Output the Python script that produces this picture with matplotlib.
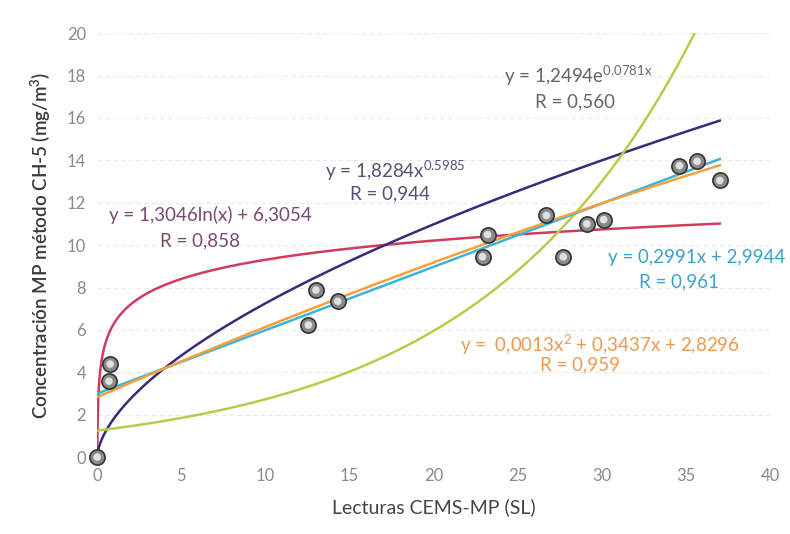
import numpy as np
import matplotlib.pyplot as plt

# lecturas CEMS (x) vs concentracion CH-5 (y)
cems = [0.0, 0.77, 0.7, 12.55, 13.0, 14.3, 22.9, 23.2, 26.7, 27.7, 29.1, 30.1, 34.6, 35.65, 37.0]
ch5 = [0.0, 4.39, 3.58, 6.23, 7.88, 7.35, 9.45, 10.5, 11.4, 9.45, 11.0, 11.2, 13.75, 13.95, 13.05]

# coeficientes de las lineas de tendencia
lin_a, lin_b = 0.2991, 2.9944
quad_a, quad_b, quad_c = -0.0013, 0.3437, 2.8296
log_a, log_b = 1.3046, 6.3054
pow_a, pow_b = 1.8284, 0.5985
exp_a, exp_b = 1.2494, 0.0781

x_end = 37.0
y_ticks = [0, 2, 4, 6, 8, 10, 12, 14, 16, 18, 20]
x_ticks = [0, 5, 10, 15, 20, 25, 30, 35, 40]

plt.rcParams['font.family'] = ['Lato', 'DejaVu Sans']
plt.rcParams['mathtext.default'] = 'regular'
fig = plt.figure(figsize=(7.9, 5.34), dpi=100)
ax = fig.add_axes([0.123, 0.144, 0.852, 0.794])

x = np.linspace(0, x_end, 400)
xl = np.geomspace(0.008, x_end, 600)
ax.plot(xl, log_a*np.log(xl) + log_b, color='#d03c5c', lw=1.8, zorder=3)
ax.plot(x, pow_a*x**pow_b, color='#3a2a78', lw=1.8, zorder=3)
xe = np.linspace(0, np.log(20/exp_a)/exp_b, 400)
ax.plot(xe, exp_a*np.exp(exp_b*xe), color='#b8cc4c', lw=1.8, zorder=3)
ax.plot(x, lin_a*x + lin_b, color='#3ab4dc', lw=1.8, zorder=3)
ax.plot(x, quad_a*x**2 + quad_b*x + quad_c, color='#f5a03c', lw=1.8, zorder=3)

ax.scatter(cems, ch5, s=120, facecolor='#8a8a8a', edgecolor='#333333', lw=1.2, zorder=5, clip_on=False)
ax.scatter(cems, ch5, s=30, facecolor='#e0e0e0', edgecolor='none', zorder=6, clip_on=False)

ax.set_xlim(0, 40)
ax.set_ylim(0, 20)
ax.set_xticks(x_ticks)
ax.set_yticks(y_ticks)
ax.tick_params(length=0, labelsize=12, labelcolor='#8a8a8a', pad=8)
for s in ax.spines.values():
    s.set_visible(False)
ax.grid(axis='y', color='#e8e8e8', lw=0.8, ls=(0, (4, 3)))
ax.set_axisbelow(True)

ax.set_xlabel('Lecturas CEMS-MP (SL)', fontsize=14, color='#444444', labelpad=10)
ax.set_ylabel('Concentración MP método CH-5 (mg/m$^3$)', fontsize=13.5, color='#3a3a3a',
              fontweight='semibold', labelpad=10)

fs = 13.5
ax.text(28.6, 18.0, 'y = 1,2494e$^{0.0781x}$', ha='center', va='center', fontsize=fs, color='#666666')
ax.text(28.4, 16.75, 'R = 0,560', ha='center', va='center', fontsize=fs, color='#666666')
ax.text(17.7, 13.5, 'y = 1,8284x$^{0.5985}$', ha='center', va='center', fontsize=fs, color='#5a5070')
ax.text(17.4, 12.4, 'R = 0,944', ha='center', va='center', fontsize=fs, color='#5a5070')
ax.text(6.7, 11.4, 'y = 1,3046ln(x) + 6,3054', ha='center', va='center', fontsize=fs, color='#7a4a6e')
ax.text(6.1, 10.2, 'R = 0,858', ha='center', va='center', fontsize=fs, color='#7a4a6e')
ax.text(35.6, 9.4, 'y = 0,2991x + 2,9944', ha='center', va='center', fontsize=fs, color='#3aa4c8')
ax.text(34.6, 8.25, 'R = 0,961', ha='center', va='center', fontsize=fs, color='#3aa4c8')
ax.text(29.9, 5.28, 'y =  0,0013x$^2$ + 0,3437x + 2,8296', ha='center', va='center', fontsize=fs, color='#f09850')
ax.text(28.7, 4.34, 'R = 0,959', ha='center', va='center', fontsize=fs, color='#f09850')

fig.savefig('out.png', dpi=100)
